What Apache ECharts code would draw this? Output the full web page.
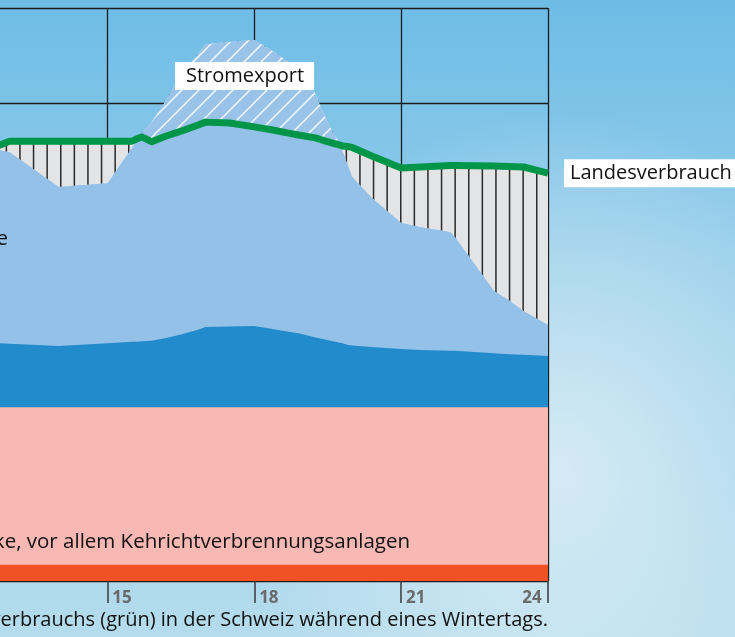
<!DOCTYPE html>
<html>
<head>
<meta charset="utf-8">
<script src="https://cdn.jsdelivr.net/npm/echarts@6/dist/echarts.min.js"></script>
<style>
    html, body {
        margin: 0;
        padding: 0;
    }
    body {
        width: 735px;
        height: 637px;
        overflow: hidden;
        background:
            radial-gradient(ellipse 320px 360px at 560px 470px, rgba(228, 241, 247, 0.75), rgba(228, 241, 247, 0) 100%),
            linear-gradient(to bottom, #6dbce6 0%, #95cdea 40%, #b4dced 100%);
    }
    #chart {
        width: 735px;
        height: 637px;
    }
</style>
</head>
<body>
<div id="chart"></div>
<script>
// hours of the day (x axis)
const hours = [12.75, 13, 14, 15, 15.5, 15.6, 15.7, 15.9, 16.2, 16.5, 16.85, 17, 17.5, 18, 18.4, 18.7, 18.9,
    19.25, 19.4, 19.6, 19.75, 19.8, 19.9, 20, 20.4, 21, 21.4, 22, 22.1, 22.9, 23.2, 23.5, 24];
const tickHours = [15, 18, 21, 24];

// production in MW, bottom to top
const thermal = [340, 340, 340, 340, 340, 340, 340, 340, 340, 340, 340, 340, 340, 340, 340, 340, 340,
    340, 340, 340, 340, 340, 340, 340, 340, 340, 340, 340, 340, 340, 340, 340, 340];
const nuclear = [3300, 3300, 3300, 3300, 3300, 3300, 3300, 3300, 3300, 3300, 3300, 3300, 3300, 3300, 3300, 3300, 3300,
    3300, 3300, 3300, 3300, 3300, 3300, 3300, 3300, 3300, 3300, 3300, 3300, 3300, 3300, 3300, 3300];
const riverHydro = [1340, 1330, 1280, 1340, 1370, 1370, 1380, 1390, 1450, 1520, 1620, 1680, 1690, 1700, 1630, 1580, 1550,
    1460, 1430, 1380, 1350, 1340, 1310, 1290, 1260, 1220, 1200, 1180, 1180, 1130, 1110, 1100, 1070];
const storageHydro = [4050, 4010, 3330, 3350, 4060, 4200, 4340, 4580, 4980, 5440, 5780, 5920, 5960, 5990, 5810, 5650, 5410,
    5100, 4750, 4380, 4180, 4020, 3780, 3530, 3120, 2640, 2570, 2490, 2380, 1300, 1130, 910, 650];
// Landesverbrauch (green line)
const consumption = [9110, 9210, 9210, 9210, 9210, 9260, 9300, 9200, 9320, 9420, 9550, 9610, 9590, 9510, 9440, 9380, 9340,
    9280, 9230, 9170, 9130, 9110, 9100, 9080, 8900, 8650, 8670, 8700, 8700, 8690, 8680, 8670, 8540];

const FONT = '"Open Sans"';

// cumulative tops, each area is filled from 0 and the lower ones are painted over the higher ones
const topThermal = hours.map((h, i) => thermal[i]);
const topNuclear = hours.map((h, i) => thermal[i] + nuclear[i]);
const topRiver = hours.map((h, i) => topNuclear[i] + riverHydro[i]);
const production = hours.map((h, i) => topRiver[i] + storageHydro[i]);
const topSolid = hours.map((h, i) => Math.min(production[i], consumption[i]));
const topGap = hours.map((h, i) => Math.max(production[i], consumption[i]));

const pairs = arr => hours.map((h, i) => [h, arr[i]]);

// hatch patterns
function vertHatch() {
    const c = document.createElement('canvas');
    c.width = 68;
    c.height = 8;
    const g = c.getContext('2d');
    g.fillStyle = '#e3e4e6';
    g.fillRect(0, 0, 68, 8);
    g.fillStyle = '#2b2b2b';
    for (let k = 0; k < 5; k++) {
        g.fillRect(6.3 + 13.6 * k - 0.7, 0, 1.5, 8);
    }
    return c;
}
function diagHatch() {
    const s = 17;
    const c = document.createElement('canvas');
    c.width = s;
    c.height = s;
    const g = c.getContext('2d');
    g.fillStyle = '#9ac3ea';
    g.fillRect(0, 0, s, s);
    g.strokeStyle = '#ffffff';
    g.lineWidth = 1.3;
    g.beginPath();
    g.moveTo(0, s); g.lineTo(s, 0);
    g.moveTo(-4, 4); g.lineTo(4, -4);
    g.moveTo(s - 4, s + 4); g.lineTo(s + 4, s - 4);
    g.stroke();
    return c;
}

function areaSeries(name, data, color, z) {
    return {
        name: name,
        type: 'line',
        data: pairs(data),
        symbol: 'none',
        lineStyle: {width: 0},
        areaStyle: {color: color, opacity: 1, origin: 'start'},
        z: z
    };
}

const chart = echarts.init(document.getElementById('chart'), null, {renderer: 'canvas'});
chart.setOption({
    animation: false,
    grid: {left: -39.3, right: 187, top: 8, bottom: 56, outerBoundsMode: 'none'},
    xAxis: {
        type: 'value',
        min: 12,
        max: 24,
        interval: 3,
        axisLine: {show: false},
        axisTick: {show: true, length: 22, lineStyle: {color: '#3a3a3a', width: 1.5}},
        splitLine: {show: true, lineStyle: {color: '#1e1e1e', width: 1.3}},
        axisLabel: {
            showMinLabel: false,
            showMaxLabel: true,
            margin: 9,
            align: 'center',
            formatter: v => tickHours.indexOf(v) < 0 ? '' : (v === 24 ? '{r|' + v + '}' : '{l|' + v + '}'),
            rich: {
                l: {padding: [0, 0, 0, 29], fontSize: 17, fontWeight: 'bold', color: '#6a6a6a', fontFamily: FONT},
                r: {padding: [0, 32, 0, 0], fontSize: 17, fontWeight: 'bold', color: '#6a6a6a', fontFamily: FONT}
            }
        }
    },
    yAxis: {
        type: 'value',
        min: 0,
        max: 12000,
        interval: 2000,
        axisLine: {show: false},
        axisTick: {show: false},
        axisLabel: {show: false},
        splitLine: {show: true, lineStyle: {color: '#1e1e1e', width: 1.3}}
    },
    series: [
        areaSeries('Stromimport', topGap, {image: vertHatch(), repeat: 'repeat'}, 1),
        areaSeries('Stromexport', production, {image: diagHatch(), repeat: 'repeat'}, 2),
        areaSeries('Speicherkraftwerke', topSolid, '#94c1e8', 3),
        areaSeries('Laufwasserkraftwerke', topRiver, '#228bcb', 4),
        areaSeries('Kernkraftwerke', topNuclear, '#f8b8b3', 5),
        areaSeries('Thermische Kraftwerke', topThermal, '#f05225', 6),
        {
            name: 'Landesverbrauch',
            type: 'line',
            data: pairs(consumption),
            symbol: 'none',
            z: 8,
            lineStyle: {color: '#00964a', width: 7, join: 'round'},
            endLabel: {
                show: true,
                formatter: 'Landesverbrauch',
                distance: 16,
                backgroundColor: '#ffffff',
                padding: [5, 8, 3, 6],
                fontSize: 20,
                color: '#111',
                fontFamily: FONT
            }
        }
    ],
    graphic: [
        {
            type: 'text',
            left: 175,
            top: 62,
            z: 20,
            style: {
                text: 'Stromexport',
                fontSize: 20,
                fontFamily: FONT,
                fill: '#111',
                backgroundColor: '#ffffff',
                padding: [4, 10, 4, 11]
            }
        },
        {
            type: 'text',
            right: 735 - 410,
            top: 532,
            z: 20,
            style: {
                text: 'Thermische Kraftwerke, vor allem Kehrichtverbrennungsanlagen',
                fontSize: 20.5,
                fontFamily: FONT,
                fill: '#111'
            }
        },
        {
            type: 'text',
            right: 735 - 8,
            top: 229,
            z: 20,
            style: {
                text: 'Speicherkraftwerke',
                fontSize: 20,
                fontFamily: FONT,
                fill: '#111'
            }
        },
        {
            type: 'text',
            right: 735 - 548,
            top: 610,
            z: 20,
            style: {
                text: 'Produktion und Verlauf des Landesverbrauchs (grün) in der Schweiz während eines Wintertags.',
                fontSize: 20,
                fontFamily: FONT,
                fill: '#111'
            }
        }
    ]
});
</script>
</body>
</html>
